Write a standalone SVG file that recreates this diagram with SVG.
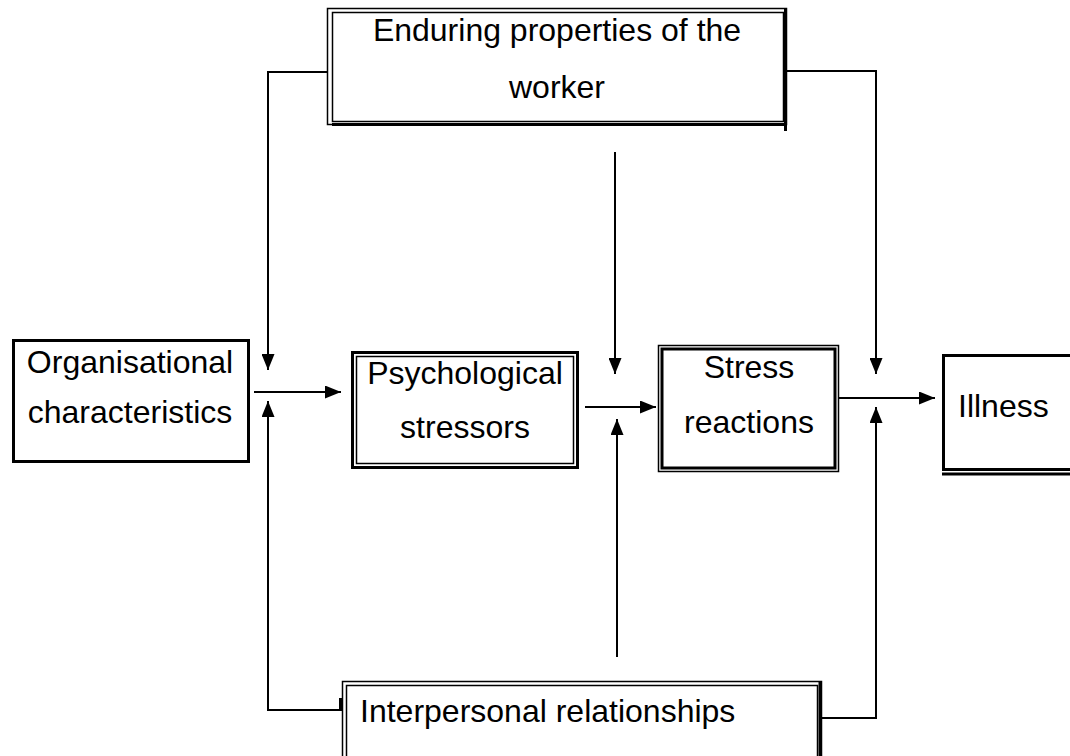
<svg xmlns="http://www.w3.org/2000/svg" width="1070" height="756" viewBox="0 0 1070 756">
  <style>
    .lbl { font-family: "Liberation Sans", Arial, sans-serif; font-size: 32px; fill: #000; }
    .mid { text-anchor: middle; }
    .thin { fill: none; stroke: #000; stroke-width: 1.5; }
    .thick { fill: none; stroke: #000; stroke-width: 3; }
    .conn { fill: none; stroke: #000; stroke-width: 2; }
  </style>
  <defs>
    <marker id="arrow" viewBox="0 0 16 13" refX="16" refY="6.5" markerWidth="16" markerHeight="13" markerUnits="userSpaceOnUse" orient="auto">
      <path d="M0,0 L16,6.5 L0,13 Z" fill="#000"/>
    </marker>
  </defs>
  <rect width="1070" height="756" fill="#fff"/>

  <!-- Enduring properties of the worker -->
  <g id="enduring">
    <rect class="thin" x="327.5" y="8.5" width="459" height="116"/>
    <rect class="thin" x="332.5" y="12.5" width="451" height="109"/>
    <line class="thick" x1="785.5" y1="8" x2="785.5" y2="131"/>
    <line class="thick" x1="332" y1="124.5" x2="787" y2="124.5"/>
    <text class="lbl mid" x="557" y="41">Enduring properties of the</text>
    <text class="lbl mid" x="557" y="98">worker</text>
  </g>

  <!-- Organisational characteristics -->
  <g id="organisational">
    <rect class="thick" x="13.5" y="340.5" width="235" height="121"/>
    <text class="lbl mid" x="130" y="373">Organisational</text>
    <text class="lbl mid" x="130" y="423">characteristics</text>
  </g>

  <!-- Psychological stressors -->
  <g id="psychological">
    <rect class="thick" x="352.5" y="352.5" width="225" height="115" stroke-width="2"/>
    <rect class="thin" x="356.5" y="356.5" width="217" height="107"/>
    <text class="lbl mid" x="465" y="384">Psychological</text>
    <text class="lbl mid" x="465" y="438">stressors</text>
  </g>

  <!-- Stress reactions -->
  <g id="stress">
    <rect class="thin" x="658.5" y="345.5" width="180" height="126"/>
    <rect class="thick" x="662" y="349" width="173" height="119" stroke-width="2.5"/>
    <text class="lbl mid" x="749" y="378">Stress</text>
    <text class="lbl mid" x="749" y="433">reactions</text>
  </g>

  <!-- Illness -->
  <g id="illness">
    <rect class="thick" x="943.5" y="355.5" width="140" height="114"/>
    <line class="thick" x1="942" y1="474" x2="1070" y2="474"/>
    <text class="lbl" x="958" y="417">Illness</text>
  </g>

  <!-- Interpersonal relationships -->
  <g id="interpersonal">
    <rect class="thin" x="342.5" y="681.5" width="479" height="100"/>
    <rect class="thin" x="346.5" y="685.5" width="471" height="100"/>
    <line class="thick" x1="820" y1="681" x2="820" y2="756" stroke-width="4"/>
    <rect x="339" y="698" width="3.5" height="13" fill="#000"/>
    <text class="lbl" x="360" y="722">Interpersonal relationships</text>
  </g>

  <!-- Connectors -->
  <g id="connectors">
    <path class="conn" d="M327,72 H268 V370" marker-end="url(#arrow)"/>
    <path class="conn" d="M787,71 H876 V374" marker-end="url(#arrow)"/>
    <path class="conn" d="M615,152 V374" marker-end="url(#arrow)"/>
    <path class="conn" d="M342,710 H268 V401" marker-end="url(#arrow)"/>
    <path class="conn" d="M822,718 H876 V407" marker-end="url(#arrow)"/>
    <path class="conn" d="M617,657 V419" marker-end="url(#arrow)"/>
    <path class="conn" d="M254,392 H341" marker-end="url(#arrow)"/>
    <path class="conn" d="M585,407 H656" marker-end="url(#arrow)"/>
    <path class="conn" d="M838,398 H935" marker-end="url(#arrow)"/>
  </g>
</svg>
